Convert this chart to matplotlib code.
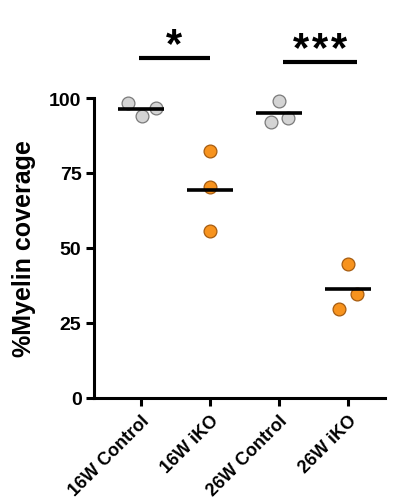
import numpy as np
import matplotlib.pyplot as plt

plt.rcParams['font.family'] = ['Liberation Sans', 'DejaVu Sans']
plt.rcParams['font.weight'] = 'bold'

groups = ['16W Control', '16W iKO', '26W Control', '26W iKO']
values = [
    [98.3, 94.0, 96.7],
    [82.4, 70.2, 55.8],
    [99.0, 92.1, 93.2],
    [44.7, 34.7, 29.7],
]
means = [96.3, 69.4, 94.9, 36.3]
jitter = [
    [-0.19, 0.01, 0.22],
    [0.0, 0.0, 0.0],
    [0.0, -0.12, 0.13],
    [0.01, 0.13, -0.13],
]
colors = ['#d4d4d4', '#f7931e', '#d4d4d4', '#f7931e']
edges = ['#7a7a7a', '#a65c10', '#7a7a7a', '#a65c10']

# significance brackets: (x start, x end, y, number of stars)
sig_pairs = [(-0.03, 1.0, 113.3, 1), (2.06, 3.13, 111.9, 3)]

fig = plt.figure(figsize=(3.94, 5.02), dpi=100)
ax = fig.add_axes([94 / 394, 103 / 502, (385 - 94) / 394, 390 / 502])

for i, vals in enumerate(values):
    xs = np.array(jitter[i]) + i
    ax.scatter(xs, vals, s=85, color=colors[i], edgecolor=edges[i],
               linewidth=0.9, zorder=2)
    ax.plot([i - 0.33, i + 0.33], [means[i], means[i]], color='black',
            lw=2.6, zorder=3, solid_capstyle='butt')

for x1, x2, y, n in sig_pairs:
    ax.plot([x1, x2], [y, y], color='black', lw=3,
            solid_capstyle='butt', clip_on=False)
    mid = (x1 + x2) / 2
    for k in range(n):
        ax.text(mid + (k - (n - 1) / 2) * 0.275, y + 4.4, '*', ha='center',
                va='center', fontsize=30, fontweight='bold', clip_on=False)

ax.set_xlim(-0.68, 3.54)
ax.set_ylim(0, 130)
ax.spines['top'].set_visible(False)
ax.spines['right'].set_visible(False)
ax.spines['left'].set_bounds(0, 100)
ax.spines['left'].set_linewidth(2.2)
ax.spines['bottom'].set_linewidth(2.2)
ax.set_yticks([0, 25, 50, 75, 100])
ax.set_xticks(range(len(groups)))
ax.set_xticklabels(groups, rotation=45, ha='right', rotation_mode='anchor',
                   fontsize=13, fontweight='bold')
ax.tick_params(axis='y', labelsize=14, width=2.2, length=6, pad=3)
ax.tick_params(axis='x', width=2.2, length=6, pad=4)
for t in ax.get_yticklabels():
    t.set_fontweight('bold')
ax.set_ylabel('%Myelin coverage', fontsize=18, fontweight='bold')
ax.yaxis.set_label_coords(-0.2, 50 / 130)

fig.savefig('out.png', dpi=100)
